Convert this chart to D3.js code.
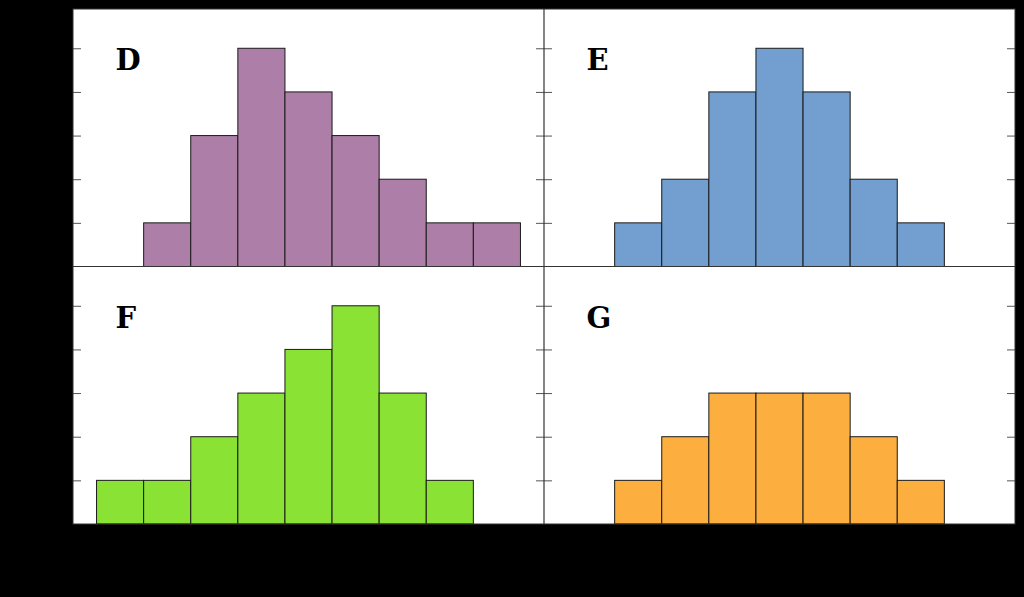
<!DOCTYPE html>
<html>
<head>
<meta charset="utf-8">
<script src="https://cdn.jsdelivr.net/npm/d3@7"></script>
<style>
  html, body { margin: 0; padding: 0; background: #000; }
  svg { display: block; }
</style>
</head>
<body>
<svg id="chart" width="1024" height="597"></svg>
<script>
// panel names and colours (Tango palette)
const panelNames = ["D", "E", "F", "G"];
const panelColors = ["#ad7fa8", "#729fcf", "#8ae234", "#fcaf3e"];

// histogram bins (left edge of each unit-wide bin) and counts per panel
const binsD = [1, 2, 3, 4, 5, 6, 7, 8];
const countsD = [1, 3, 5, 4, 3, 2, 1, 1];
const binsE = [1, 2, 3, 4, 5, 6, 7];
const countsE = [1, 2, 4, 5, 4, 2, 1];
const binsF = [0, 1, 2, 3, 4, 5, 6, 7];
const countsF = [1, 1, 2, 3, 4, 5, 3, 1];
const binsG = [1, 2, 3, 4, 5, 6, 7];
const countsG = [1, 2, 3, 3, 3, 2, 1];

const yTicks = [1, 2, 3, 4, 5];

const allBins = [binsD, binsE, binsF, binsG];
const allCounts = [countsD, countsE, countsF, countsG];

const svg = d3.select("#chart");

const plotLeft = 73, plotRight = 1015, plotTop = 9, plotBottom = 524;
const pw = (plotRight - plotLeft) / 2;
const ph = (plotBottom - plotTop) / 2;

panelNames.forEach((name, p) => {
    const col = p % 2, row = Math.floor(p / 2);
    const x0 = plotLeft + col * pw, y0 = plotTop + row * ph;

    const x = d3.scaleLinear().domain([-0.5, 9.5]).range([x0, x0 + pw]);
    const y = d3.scaleLinear().domain([0, 5.9]).range([y0 + ph, y0]);

    const g = svg.append("g").attr("class", "panel");

    g.append("rect")
        .attr("x", x0).attr("y", y0)
        .attr("width", pw).attr("height", ph)
        .attr("fill", "#ffffff");

    const data = allBins[p].map((b, i) => ({bin: b, count: allCounts[p][i]}));

    g.selectAll("rect.bar")
        .data(data)
        .enter()
        .append("rect")
        .attr("class", "bar")
        .attr("x", d => x(d.bin))
        .attr("y", d => y(d.count))
        .attr("width", d => x(d.bin + 1) - x(d.bin))
        .attr("height", d => y(0) - y(d.count))
        .attr("fill", panelColors[p])
        .attr("stroke", "#1a1a1a")
        .attr("stroke-width", 1);

    // inward ticks on both sides
    const leftAxis = d3.axisRight(y).tickValues(yTicks).tickSize(8).tickFormat("");
    const rightAxis = d3.axisLeft(y).tickValues(yTicks).tickSize(8).tickFormat("");

    g.append("g")
        .attr("transform", `translate(${x0},0)`)
        .call(leftAxis)
        .call(a => a.select(".domain").remove())
        .selectAll("line").attr("stroke", "#555").attr("stroke-width", 1);

    g.append("g")
        .attr("transform", `translate(${x0 + pw},0)`)
        .call(rightAxis)
        .call(a => a.select(".domain").remove())
        .selectAll("line").attr("stroke", "#555").attr("stroke-width", 1);

    g.append("text")
        .attr("x", x(0.4))
        .attr("y", y(4.5))
        .attr("font-family", "DejaVu Serif")
        .attr("font-weight", "bold")
        .attr("font-size", 29)
        .attr("fill", "#000")
        .text(name);
});

// divider lines and frame
svg.append("line")
    .attr("x1", plotLeft + pw).attr("x2", plotLeft + pw)
    .attr("y1", plotTop).attr("y2", plotBottom)
    .attr("stroke", "#333").attr("stroke-width", 1.2);
svg.append("line")
    .attr("x1", plotLeft).attr("x2", plotRight)
    .attr("y1", plotTop + ph).attr("y2", plotTop + ph)
    .attr("stroke", "#333").attr("stroke-width", 1.2);
svg.append("rect")
    .attr("x", plotLeft).attr("y", plotTop)
    .attr("width", plotRight - plotLeft).attr("height", plotBottom - plotTop)
    .attr("fill", "none")
    .attr("stroke", "#333").attr("stroke-width", 1);
</script>
</body>
</html>
